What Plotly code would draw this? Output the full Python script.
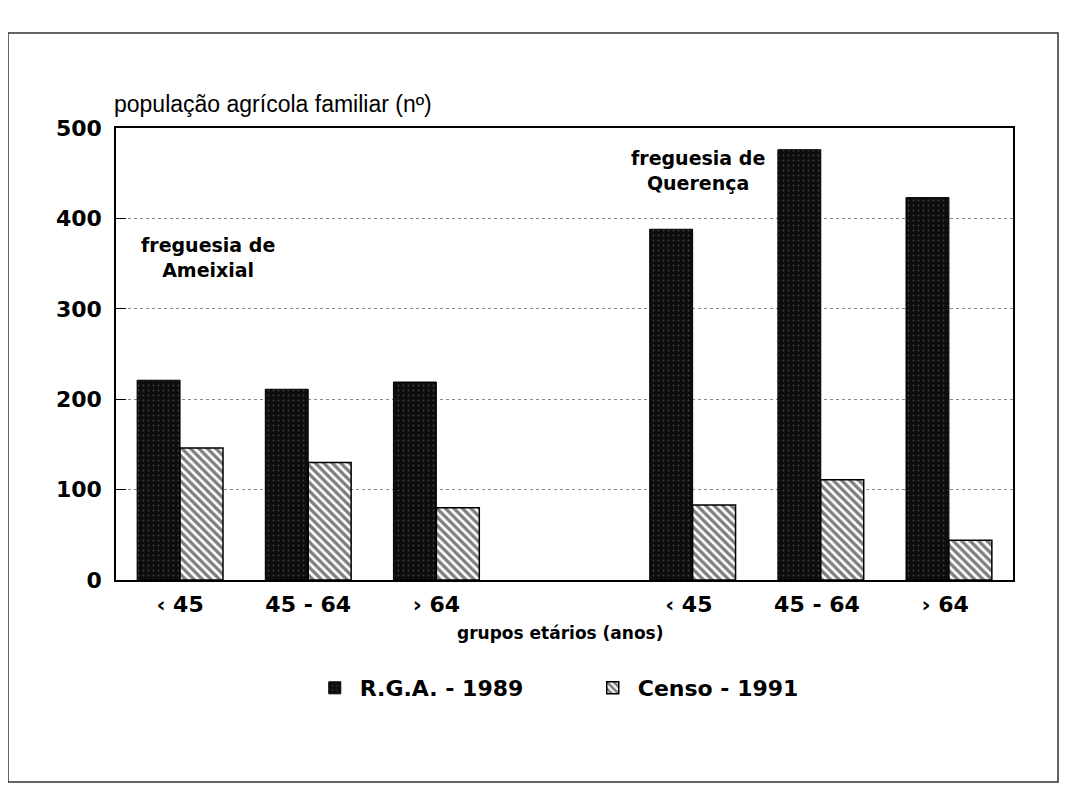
import plotly.graph_objects as go

categories = ["‹ 45", "45 - 64", "› 64", " ", "‹ 45 ", "45 - 64 ", "› 64 "]
rga_1989 = [221, 211, 219, None, 388, 476, 423]
censo_1991 = [146, 130, 80, None, 83, 111, 44]
y_ticks = [0, 100, 200, 300, 400, 500]

SANS = "Liberation Sans, Arial, sans-serif"
WIDE = "DejaVu Sans, Verdana, sans-serif"

fig = go.Figure()
fig.add_trace(go.Bar(
    x=categories, y=rga_1989, name="R.G.A. - 1989",
    marker=dict(color="#0d0d0d", line=dict(color="black", width=1),
                pattern=dict(shape=".", bgcolor="#0d0d0d", fgcolor="#707070",
                             size=5, solidity=0.12)),
))
fig.add_trace(go.Bar(
    x=categories, y=censo_1991, name="Censo - 1991",
    marker=dict(color="white", line=dict(color="black", width=1.5),
                pattern=dict(shape="\\", bgcolor="white", fgcolor="black",
                             size=6, solidity=0.55)),
))

# page body has an 8px offset; compensate so the plot sits where the reference has it
fig.update_layout(
    width=1061, height=780,
    margin=dict(l=108, r=56, t=120, b=208),
    paper_bgcolor="white", plot_bgcolor="white",
    barmode="group", bargap=0.33, bargroupgap=0,
    font=dict(family=SANS, color="black"),
    showlegend=True,
    legend=dict(orientation="h", x=0.216, xanchor="left", y=-0.239, yanchor="middle",
                font=dict(size=22, family=WIDE, weight="bold"), itemwidth=40,
                traceorder="normal", entrywidth=223),
)

fig.update_xaxes(
    type="category", categoryorder="array", categoryarray=categories,
    showline=True, linecolor="black", linewidth=1.5, mirror=True,
    ticks="", tickfont=dict(size=22, family=WIDE, weight="bold"), ticklabelstandoff=4,
    showgrid=False,
)
fig.update_yaxes(
    range=[0, 500], tickvals=y_ticks,
    showline=True, linecolor="black", linewidth=1.5, mirror=True,
    ticks="inside", ticklen=10, tickcolor="black",
    tickfont=dict(size=22, family=WIDE, weight="bold"), ticklabelstandoff=8,
    showgrid=True, gridcolor="#8a8a8a", gridwidth=1, griddash="dot",
    zeroline=False,
)

# axis titles
fig.add_annotation(text="população agrícola familiar (nº)", xref="paper", yref="paper",
                   x=-0.005, y=1.053, xanchor="left", yanchor="middle", showarrow=False,
                   font=dict(size=23, family=SANS))
fig.add_annotation(text="<b>grupos etários (anos)</b>", xref="paper", yref="paper",
                   x=0.495, y=-0.117, xanchor="center", yanchor="middle", showarrow=False,
                   font=dict(size=17, family=WIDE))
# group labels
fig.add_annotation(text="<b>freguesia de<br>Ameixial</b>", xref="paper", yref="y",
                   x=0.1026, y=357, xanchor="center", yanchor="middle", showarrow=False,
                   font=dict(size=19, family=WIDE))
fig.add_annotation(text="<b>freguesia de<br>Querença</b>", xref="paper", yref="y",
                   x=0.649, y=453, xanchor="center", yanchor="middle", showarrow=False,
                   font=dict(size=19, family=WIDE))

# outer frame of the scanned figure
fig.add_shape(type="rect", xref="paper", yref="paper",
              x0=-0.1204, x1=1.0502, y0=-0.447, y1=1.21,
              line=dict(color="#333333", width=1.5))

fig.write_html("out.html")
